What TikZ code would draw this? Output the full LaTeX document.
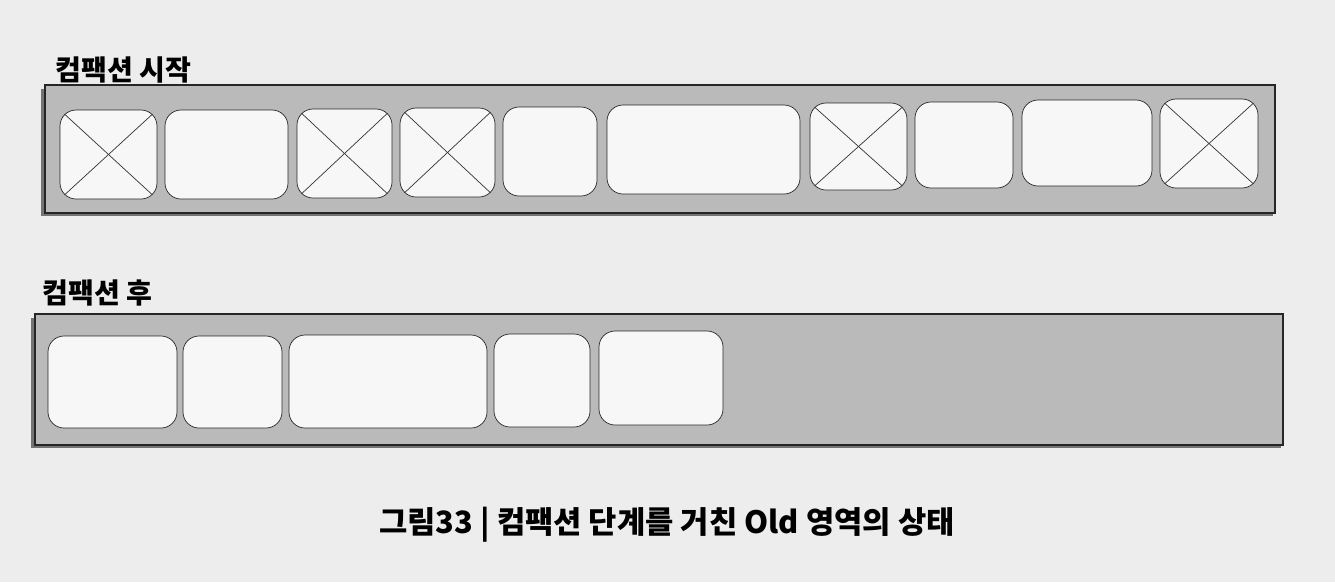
\documentclass[tikz,border=0pt]{standalone}
\usepackage{fontspec}
\setmainfont{Noto Sans CJK KR}
\usetikzlibrary{fit,positioning}

\begin{document}
\begin{tikzpicture}[x=0.02cm, y=-0.02cm]
\tikzstyle{bar}=[rectangle, inner sep=0pt, draw=black!85, fill=black!27, line width=0.9pt]
\tikzstyle{blk}=[rectangle, inner sep=0pt, rounded corners=3.2mm, draw=black!85, fill=black!3]
\tikzstyle{cross}=[draw=black!80, shorten <=1.35mm, shorten >=1.35mm]
\tikzstyle{lbl}=[anchor=west, inner sep=0pt, font=\bfseries\fontsize{16}{18}\selectfont]
  \useasboundingbox[fill=black!7] (0,0) rectangle (1335,582);
  % before compaction
  \node[lbl] (start) at (55,70) {컴팩션 시작};
  \fill[black!55] (41,89) rectangle (1273,216);
  \node[bar, fit={(45,85) (1275,213)}] (old1) {};
  \node[blk, fit={(60,110) (157,199)}] (a1) {};
  \node[blk, fit={(165,110) (288,199)}] (a2) {};
  \node[blk, fit={(297,109) (392,198)}] (a3) {};
  \node[blk, fit={(400,108) (495,197)}] (a4) {};
  \node[blk, fit={(503,107) (597,196)}] (a5) {};
  \node[blk, fit={(607,105) (800,194)}] (a6) {};
  \node[blk, fit={(810,103) (907,190)}] (a7) {};
  \node[blk, fit={(915,102) (1013,188)}] (a8) {};
  \node[blk, fit={(1022,100) (1152,186)}] (a9) {};
  \node[blk, fit={(1160,99) (1258,188)}] (a10) {};
  \path (a1.north west) edge[cross] (a1.south east) (a1.north east) edge[cross] (a1.south west)
        (a3.north west) edge[cross] (a3.south east) (a3.north east) edge[cross] (a3.south west)
        (a4.north west) edge[cross] (a4.south east) (a4.north east) edge[cross] (a4.south west)
        (a7.north west) edge[cross] (a7.south east) (a7.north east) edge[cross] (a7.south west)
        (a10.north west) edge[cross] (a10.south east) (a10.north east) edge[cross] (a10.south west);
  % after compaction
  \node[lbl] (after) at (42,293) {컴팩션 후};
  \fill[black!55] (31,318) rectangle (1281,448);
  \node[bar, fit={(35,314) (1283,445)}] (old2) {};
  \node[blk, fit={(48,336) (177,428)}] (b1) {};
  \node[blk, fit={(183,336) (282,428)}] (b2) {};
  \node[blk, fit={(289,335) (487,428)}] (b3) {};
  \node[blk, fit={(494,334) (590,427)}] (b4) {};
  \node[blk, fit={(599,331) (723,425)}] (b5) {};
  \node[font=\bfseries\fontsize{17.5}{20}\selectfont] (cap) at (667,525) {그림33 | 컴팩션 단계를 거친 Old 영역의 상태};
\end{tikzpicture}
\end{document}
